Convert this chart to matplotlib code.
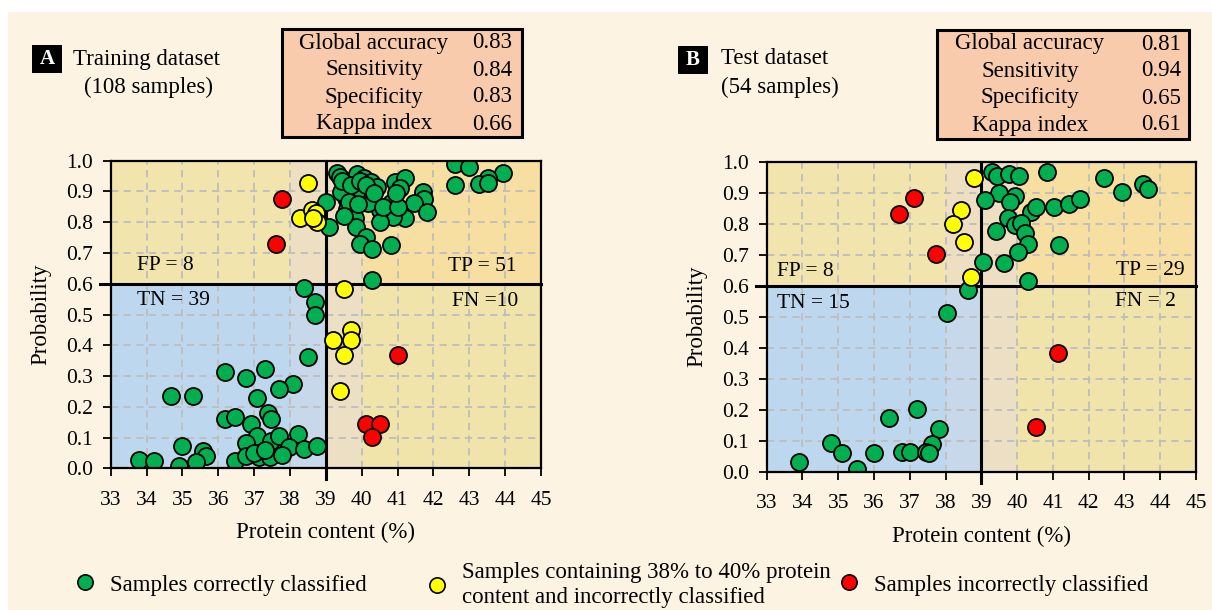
import matplotlib
matplotlib.use("Agg")
import matplotlib.pyplot as plt
from matplotlib.patches import Rectangle
from matplotlib.lines import Line2D

plt.rcParams['font.family'] = ['Liberation Serif', 'DejaVu Serif']

# ---------------- data ----------------
# Training dataset
train_green_x = [38.40, 38.70, 38.70, 38.51, 36.19, 36.78, 37.29, 38.07, 37.68, 34.67, 35.29, 37.09,
                 37.40, 37.48, 36.18, 36.48, 36.90, 37.07, 36.76, 37.46, 37.70, 38.21, 37.98, 38.40,
                 38.76, 35.00, 35.57, 35.67, 35.37, 34.90, 33.79, 34.20, 36.48, 36.78, 37.13, 37.45,
                 37.78, 37.00, 37.30,
                 42.61, 43.00, 42.61, 43.93, 43.52, 43.26, 43.52, 39.32, 39.39, 39.88, 40.06, 40.25,
                 40.43, 40.94, 41.20, 41.08, 41.70, 41.73, 41.45, 41.81, 41.20, 40.88, 40.81, 40.50,
                 40.50, 40.18, 39.97, 39.83, 39.56, 39.42, 39.60, 39.81, 39.83, 40.11, 39.95, 40.29,
                 40.81, 40.29, 39.00, 39.09, 39.45, 39.70, 39.95, 40.12, 40.35, 39.65, 39.90, 40.60,
                 41.00, 39.50, 40.95]
train_green_y = [0.587, 0.542, 0.498, 0.361, 0.312, 0.294, 0.324, 0.273, 0.257, 0.236, 0.236, 0.230,
                 0.180, 0.159, 0.159, 0.168, 0.144, 0.106, 0.081, 0.090, 0.106, 0.110, 0.070, 0.063,
                 0.073, 0.073, 0.056, 0.041, 0.020, 0.007, 0.027, 0.024, 0.024, 0.040, 0.038, 0.038,
                 0.043, 0.050, 0.060,
                 0.989, 0.979, 0.921, 0.961, 0.943, 0.924, 0.927, 0.961, 0.948, 0.957, 0.943, 0.932,
                 0.916, 0.932, 0.943, 0.910, 0.899, 0.875, 0.861, 0.832, 0.813, 0.818, 0.863, 0.840,
                 0.802, 0.863, 0.905, 0.894, 0.878, 0.899, 0.842, 0.813, 0.785, 0.753, 0.729, 0.712,
                 0.726, 0.612, 0.867, 0.783, 0.935, 0.920, 0.935, 0.920, 0.895, 0.865, 0.860, 0.850,
                 0.850, 0.820, 0.895]
train_yellow_x = [38.49, 38.28, 38.60, 38.72, 38.76, 38.65, 39.51, 39.69, 39.21, 39.69, 39.51, 39.39]
train_yellow_y = [0.927, 0.815, 0.840, 0.830, 0.800, 0.815, 0.582, 0.450, 0.417, 0.417, 0.368, 0.252]
train_red_x = [37.78, 37.61, 41.02, 40.11, 40.50, 40.29]
train_red_y = [0.875, 0.728, 0.368, 0.143, 0.143, 0.103]

# Test dataset
test_green_x = [38.63, 38.03, 37.21, 36.41, 37.81, 37.61, 34.79, 35.11, 36.01, 36.79, 37.01, 37.44,
                37.54, 33.91, 35.52,
                39.31, 39.43, 39.78, 40.04, 40.84, 42.44, 42.93, 43.51, 43.65, 39.50, 39.93, 39.81,
                39.11, 40.39, 40.54, 41.03, 41.44, 41.75, 39.74, 39.93, 40.11, 39.42, 40.22, 40.31,
                41.17, 40.02, 39.64, 39.04, 40.31]
test_green_y = [0.586, 0.511, 0.202, 0.172, 0.138, 0.089, 0.094, 0.061, 0.061, 0.065, 0.063, 0.065,
                0.059, 0.032, 0.008,
                0.968, 0.954, 0.960, 0.954, 0.968, 0.946, 0.903, 0.928, 0.911, 0.900, 0.890, 0.871,
                0.876, 0.839, 0.853, 0.855, 0.864, 0.880, 0.817, 0.796, 0.801, 0.776, 0.769, 0.735,
                0.731, 0.710, 0.672, 0.677, 0.615]
test_yellow_x = [38.79, 38.42, 38.20, 38.51, 38.72]
test_yellow_y = [0.946, 0.844, 0.799, 0.740, 0.629]
test_red_x = [37.12, 36.70, 37.72, 41.13, 40.53]
test_red_y = [0.882, 0.831, 0.701, 0.382, 0.145]

metric_names = ["Global accuracy", "Sensitivity", "Specificity", "Kappa index"]
train_metrics = ["0.83", "0.84", "0.83", "0.66"]
test_metrics = ["0.81", "0.94", "0.65", "0.61"]

train_counts = ["FP = 8", "TN = 39", "TP = 51", "FN =10"]
test_counts = ["FP = 8", "TN = 15", "TP = 29", "FN = 2"]

x_ticks = list(range(33, 46))
y_ticks = [round(0.1 * i, 1) for i in range(11)]
x_cut = 39
y_cut = 0.6
band_lo, band_hi = 38, 40

# ---------------- styling ----------------
W, H = 1212, 610
fig = plt.figure(figsize=(W / 100, H / 100), dpi=100)
fig.patch.set_facecolor('#FCF3E2')
# white margins top/left
fig.patches.append(Rectangle((0, 1 - 12 / H), 1, 12 / H, transform=fig.transFigure,
                             facecolor='white', edgecolor='none', zorder=0))
fig.patches.append(Rectangle((0, 0), 8 / W, 1, transform=fig.transFigure,
                             facecolor='white', edgecolor='none', zorder=0))

C_GREEN, C_YELLOW, C_RED = '#00B050', '#FFFF00', '#FF0000'
C_FP, C_TP, C_TN, C_FN = '#F1E5AD', '#F7DFA2', '#BDD7EE', '#F0E4AB'
C_BAND_UP, C_BAND_LL, C_BAND_LR = '#EEDFC2', '#C6D8E9', '#EDDFC4'

FS = 16.5


def px_rect(l, r, t, b):
    return [l / W, 1 - b / H, (r - l) / W, (b - t) / H]


def draw_panel(ax, gx, gy, yx, yy, rx, ry, counts, count_pos):
    xmin, xmax = x_ticks[0], x_ticks[-1]
    regions = [
        (xmin, band_lo, y_cut, 1, C_FP),
        (band_lo, band_hi, y_cut, 1, C_BAND_UP),
        (band_hi, xmax, y_cut, 1, C_TP),
        (xmin, band_lo, 0, y_cut, C_TN),
        (band_lo, x_cut, 0, y_cut, C_BAND_LL),
        (x_cut, band_hi, 0, y_cut, C_BAND_LR),
        (band_hi, xmax, 0, y_cut, C_FN),
    ]
    for x0, x1, y0, y1, c in regions:
        ax.add_patch(Rectangle((x0, y0), x1 - x0, y1 - y0, facecolor=c, edgecolor='none', zorder=0.1))
    ax.set_xlim(xmin, xmax)
    ax.set_ylim(0, 1)
    ax.set_xticks(x_ticks)
    ax.set_yticks(y_ticks)
    ax.set_yticklabels([f"{v:.1f}" for v in y_ticks])
    ax.set_axisbelow(True)
    ax.grid(True, color='#BDBDBD', linestyle=(0, (4, 3)), linewidth=1.3, zorder=0.5)
    ax.tick_params(direction='out', length=6, width=1.3, labelsize=15.5, pad=7, colors='black')
    ax.tick_params(axis='x', pad=10)
    for s in ax.spines.values():
        s.set_linewidth(1.6)
        s.set_color('black')
        s.set_zorder(5)
    ax.plot([x_cut, x_cut], [-0.035, 1], color='black', lw=2.2, clip_on=False, zorder=2)
    ax.plot([xmin - 0.3, xmax], [y_cut, y_cut], color='black', lw=2.2, clip_on=False, zorder=2)
    kw = dict(s=150, edgecolors='black', linewidths=1.3, zorder=3)
    ax.scatter(gx, gy, c=C_GREEN, **kw)
    ax.scatter(yx, yy, c=C_YELLOW, **kw)
    ax.scatter(rx, ry, c=C_RED, **kw)
    for txt, (x, y, ha) in zip(counts, count_pos):
        ax.text(x, y, txt, ha=ha, va='center', fontsize=15.5, zorder=4)
    ax.set_xlabel("Protein content (%)", fontsize=FS, labelpad=9)
    ax.set_ylabel("Probability", fontsize=FS, labelpad=10)


axA = fig.add_axes(px_rect(110.7, 541, 160.7, 468.3))
draw_panel(axA, train_green_x, train_green_y, train_yellow_x, train_yellow_y, train_red_x, train_red_y,
           train_counts, [(33.72, 0.66, 'left'), (33.72, 0.547, 'left'),
                          (44.32, 0.655, 'right'), (44.37, 0.542, 'right')])

axB = fig.add_axes(px_rect(766.7, 1196, 161.7, 471.7))
draw_panel(axB, test_green_x, test_green_y, test_yellow_x, test_yellow_y, test_red_x, test_red_y,
           test_counts, [(33.28, 0.645, 'left'), (33.28, 0.541, 'left'),
                         (44.67, 0.648, 'right'), (44.45, 0.548, 'right')])


def fx(p):
    return p / W


def fy(p):
    return 1 - p / H


def panel_header(letter, title, sub, box_l, box_t, text_x, sub_x, sub_ha):
    fig.patches.append(Rectangle((fx(box_l), fy(box_t + 28)), 30 / W, 28 / H,
                                 transform=fig.transFigure, facecolor='black', edgecolor='none'))
    fig.text(fx(box_l + 15), fy(box_t + 14), letter, color='white', fontweight='bold',
             fontsize=15, ha='center', va='center')
    fig.text(fx(text_x), fy(59), title, fontsize=FS, ha='left', va='center')
    fig.text(fx(sub_x), fy(87), sub, fontsize=FS, ha=sub_ha, va='center')


def metrics_table(l, r, t, b, names, vals, name_cx, val_cx, row_y):
    fig.patches.append(Rectangle((fx(l), fy(b)), (r - l) / W, (b - t) / H, transform=fig.transFigure,
                                 facecolor='#F8CBAD', edgecolor='black', linewidth=2.2))
    for n, v, y in zip(names, vals, row_y):
        fig.text(fx(name_cx), fy(y), n, fontsize=FS, ha='center', va='center')
        fig.text(fx(val_cx), fy(y), v, fontsize=FS, ha='center', va='center')


panel_header("A", "Training dataset", "(108 samples)", 32, 45, 73, 148, 'center')
panel_header("B", "Test dataset", "(54 samples)", 678, 46, 721, 721, 'left')
metrics_table(282, 522, 29, 137, metric_names, train_metrics, 374, 492, [43, 70, 97, 124])
metrics_table(937, 1189, 30, 139, metric_names, test_metrics, 1030, 1161, [44, 71, 98, 125])

# legend
legend_items = [
    (C_GREEN, "Samples correctly classified", 74),
    (C_YELLOW, "Samples containing 38% to 40% protein\ncontent and incorrectly classified", 426),
    (C_RED, "Samples incorrectly classified", 838),
]
for color, label, xpix in legend_items:
    h = Line2D([], [], marker='o', linestyle='none', markersize=11, markerfacecolor=color,
               markeredgecolor='black', markeredgewidth=1.2)
    fig.legend(handles=[h], labels=[label], loc='center left', bbox_to_anchor=(fx(xpix), fy(585)),
               frameon=False, fontsize=FS, handlelength=1.0, handletextpad=0.55,
               borderpad=0, borderaxespad=0, labelspacing=0.1)

fig.savefig("out.png", dpi=100, facecolor=fig.get_facecolor())
